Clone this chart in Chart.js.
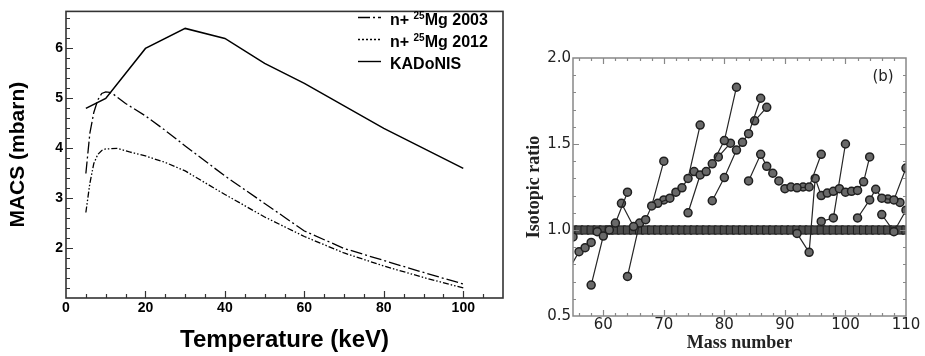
<!DOCTYPE html>
<html>
<head>
<meta charset="utf-8">
<script src="https://cdn.jsdelivr.net/npm/chart.js@4"></script>
<style>
  html, body { margin: 0; padding: 0; background: #fff; }
  #wrap { position: relative; width: 925px; height: 356px; overflow: hidden; }
  #macsChart { position: absolute; left: 0; top: 0; }
  #ratioChart { position: absolute; left: 505px; top: 0; }
</style>
</head>
<body>
<div id="wrap">
  <canvas id="macsChart" width="505" height="356"></canvas>
  <canvas id="ratioChart" width="420" height="356"></canvas>
</div>
<script>
// ── data: left panel (MACS vs temperature) ──────────────────────────────────

const kadTemp = [5, 10, 20, 30, 40, 50, 60, 80, 100];
const kadMacs = [4.8, 5.0, 6.0, 6.4, 6.2, 5.7, 5.3, 4.4, 3.6];

const mg2003Temp = [5, 6, 7, 8, 9, 10, 11, 12, 15, 20, 25, 30, 40, 50, 60, 70, 80, 90, 100];
const mg2003Macs = [3.5, 4.3, 4.72, 4.97, 5.1, 5.13, 5.12, 5.08, 4.9, 4.65, 4.36, 4.05, 3.45, 2.9, 2.35, 2.0, 1.76, 1.52, 1.29];

const mg2012Temp = [5, 6, 7, 8, 9, 10, 13, 16, 20, 25, 30, 40, 50, 60, 70, 80, 90, 100];
const mg2012Macs = [2.72, 3.3, 3.7, 3.88, 3.96, 3.99, 4.0, 3.93, 3.85, 3.72, 3.55, 3.08, 2.63, 2.24, 1.91, 1.65, 1.42, 1.21];

// ── data: right panel (isotopic ratio vs mass number) ───────────────────────

const refMass = [55, 56, 57, 58, 59, 60, 61, 62, 63, 64, 65, 66, 67, 68, 69, 70, 71, 72, 73, 74,
  75, 76, 77, 78, 79, 80, 81, 82, 83, 84, 85, 86, 87, 88, 89, 90, 91, 92, 93, 94,
  95, 96, 97, 98, 99, 100, 101, 102, 103, 104, 105, 106, 107, 108, 109, 110];
const refRatio = [1, 1, 1, 1, 1, 1, 1, 1, 1, 1, 1, 1, 1, 1, 1, 1, 1, 1, 1, 1,
  1, 1, 1, 1, 1, 1, 1, 1, 1, 1, 1, 1, 1, 1, 1, 1, 1, 1, 1, 1,
  1, 1, 1, 1, 1, 1, 1, 1, 1, 1, 1, 1, 1, 1, 1, 1];

const feChain = [[54, 0.75], [56, 0.874], [57, 0.897], [58, 0.928]];
const niChain = [[58, 0.68], [60, 0.965], [61, 1.0], [62, 1.04], [64, 1.22]];
const cuChain = [[63, 1.155], [65, 1.02]];
const znChain = [[64, 0.73], [66, 1.04], [67, 1.06], [68, 1.14], [70, 1.40]];
const gaChain = [[69, 1.155], [71, 1.185]];
const geChain = [[70, 1.175], [72, 1.22], [73, 1.245], [74, 1.30], [76, 1.61]];
const seChain = [[74, 1.10], [76, 1.32], [77, 1.34], [78, 1.385], [80, 1.52], [82, 1.83]];
const brChain = [[79, 1.425], [81, 1.505]];
const krChain = [[78, 1.17], [80, 1.305], [82, 1.465], [83, 1.51], [84, 1.56], [86, 1.766]];
const rbChain = [[85, 1.635], [87, 1.713]];
const srChain = [[84, 1.285], [86, 1.44], [87, 1.37], [88, 1.33]];
const zrChain = [[90, 1.24], [91, 1.25], [92, 1.245], [94, 1.25], [96, 1.44]];
const moChain = [[92, 0.98], [94, 0.87], [95, 1.30], [96, 1.20], [97, 1.215], [98, 1.225],
  [99, 1.24], [100, 1.22], [101, 1.225], [102, 1.23], [103, 1.28], [104, 1.425]];
const ruChain = [[96, 1.05], [98, 1.07], [100, 1.50]];
const pdChain = [[102, 1.07], [104, 1.175], [105, 1.237], [106, 1.185], [108, 1.175], [110, 1.36]];
const agChain = [[107, 1.18], [109, 1.16]];
const cdChain = [[106, 1.09], [108, 0.99], [110, 1.115]];
const singles = [[55, 0.96], [59, 0.99], [75, 1.34], [89, 1.285], [93, 1.25]];

// ── helpers ─────────────────────────────────────────────────────────────────

const pts = (xs, ys) => xs.map((x, i) => ({ x, y: ys[i] }));
const pairPts = (arr) => arr.map(([x, y]) => ({ x, y }));

function range(a, b, step) {
  const out = [];
  for (let v = a; v <= b + 1e-9; v += step) out.push(Math.round(v * 1000) / 1000);
  return out;
}

// inward tick marks + frame, drawn through the chart's own scales
function framePlugin(id, spec) {
  return {
    id,
    afterDraw(chart) {
      const ctx = chart.ctx;
      const a = chart.chartArea;
      const xs = chart.scales.x;
      const ys = chart.scales.y;
      ctx.save();
      ctx.setLineDash([]);
      ctx.strokeStyle = spec.color;
      ctx.lineWidth = spec.tickWidth;
      ctx.beginPath();
      spec.xTicks.forEach(([v, len]) => {
        const px = Math.round(xs.getPixelForValue(v)) + 0.5;
        ctx.moveTo(px, a.bottom); ctx.lineTo(px, a.bottom - len);
        if (spec.mirror) { ctx.moveTo(px, a.top); ctx.lineTo(px, a.top + len); }
      });
      spec.yTicks.forEach(([v, len]) => {
        const py = Math.round(ys.getPixelForValue(v)) + 0.5;
        ctx.moveTo(a.left, py); ctx.lineTo(a.left + len, py);
        if (spec.mirror) { ctx.moveTo(a.right, py); ctx.lineTo(a.right - len, py); }
      });
      ctx.stroke();
      ctx.lineWidth = spec.frameWidth;
      ctx.strokeRect(a.left, a.top, a.right - a.left, a.bottom - a.top);
      ctx.restore();
    },
  };
}

// ── left panel ──────────────────────────────────────────────────────────────

const legendRows = [
  { pre: 'n+ ', sup: '25', post: 'Mg 2003', dash: [12, 3, 2, 3] },
  { pre: 'n+ ', sup: '25', post: 'Mg 2012', dash: [2, 2, 2, 2, 2, 2] },
  { pre: 'KADoNIS', sup: '', post: '', dash: [] },
];

const macsLegend = {
  id: 'macsLegend',
  afterDraw(chart) {
    const ctx = chart.ctx;
    ctx.save();
    legendRows.forEach((row, i) => {
      const y = 17.5 + i * 22;
      ctx.strokeStyle = '#000';
      ctx.lineWidth = 1.4;
      ctx.setLineDash(row.dash);
      ctx.beginPath(); ctx.moveTo(358, y); ctx.lineTo(381, y); ctx.stroke();
      ctx.setLineDash([]);
      ctx.fillStyle = '#000';
      ctx.textBaseline = 'alphabetic';
      let x = 390;
      ctx.font = 'bold 16px "Liberation Sans", Arial, sans-serif';
      ctx.fillText(row.pre, x, y + 7);
      x += ctx.measureText(row.pre).width;
      if (row.sup) {
        ctx.font = 'bold 10px "Liberation Sans", Arial, sans-serif';
        ctx.fillText(row.sup, x, y + 1.5);
        x += ctx.measureText(row.sup).width;
        ctx.font = 'bold 16px "Liberation Sans", Arial, sans-serif';
        ctx.fillText(row.post, x, y + 7);
      }
    });
    ctx.restore();
  },
};

const boldSans = (size) => ({ family: '"Liberation Sans", Arial, sans-serif', weight: 'bold', size });

new Chart(document.getElementById('macsChart'), {
  type: 'line',
  data: {
    datasets: [
      { label: 'n+ 25Mg 2003', data: pts(mg2003Temp, mg2003Macs), borderColor: '#000', borderWidth: 1.3, borderDash: [12, 3, 2, 3], pointRadius: 0, tension: 0 },
      { label: 'n+ 25Mg 2012', data: pts(mg2012Temp, mg2012Macs), borderColor: '#000', borderWidth: 1.3, borderDash: [6, 2, 1.5, 2, 1.5, 2], pointRadius: 0, tension: 0 },
      { label: 'KADoNIS', data: pts(kadTemp, kadMacs), borderColor: '#000', borderWidth: 1.5, pointRadius: 0, tension: 0 },
    ],
  },
  options: {
    responsive: false,
    animation: false,
    layout: { padding: { left: 0, right: 2, top: 4, bottom: 0 } },
    plugins: { legend: { display: false }, tooltip: { enabled: false } },
    scales: {
      x: {
        type: 'linear', min: 0, max: 110,
        border: { display: false },
        grid: { display: false, drawTicks: false },
        ticks: { stepSize: 20, includeBounds: false, maxRotation: 0, color: '#000', font: boldSans(14), padding: 2 },
        title: { display: true, text: 'Temperature (keV)', color: '#000', font: boldSans(24), padding: { top: 0, bottom: 1.6 } },
        afterFit: (s) => { s.height = 58; },
      },
      y: {
        type: 'linear', min: 1.01, max: 6.74,
        border: { display: false },
        grid: { display: false, drawTicks: false },
        ticks: { stepSize: 1, includeBounds: false, color: '#000', font: boldSans(14), padding: 3 },
        title: { display: true, text: 'MACS (mbarn)', color: '#000', font: boldSans(21), padding: { top: 5.4, bottom: 0 } },
        afterFit: (s) => { s.width = 66; },
      },
    },
  },
  plugins: [
    framePlugin('macsFrame', {
      color: '#333', tickWidth: 1.2, frameWidth: 1.6, mirror: false,
      xTicks: range(5, 105, 5).map((v) => [v, v % 20 === 0 ? 7 : 4]),
      yTicks: range(1.2, 6.6, 0.2).map((v) => [v, Math.abs(v - Math.round(v)) < 1e-6 ? 7 : 4]),
    }),
    macsLegend,
  ],
});

// ── right panel ─────────────────────────────────────────────────────────────

const chainList = [feChain, niChain, cuChain, znChain, gaChain, geChain, seChain, brChain, krChain,
  rbChain, srChain, zrChain, moChain, ruChain, pdChain, agChain, cdChain];

const circleStyle = {
  borderColor: '#262626', borderWidth: 1.2,
  pointBackgroundColor: '#696969', pointBorderColor: '#1f1f1f', pointBorderWidth: 1.5,
  pointRadius: 4, tension: 0, clip: 0, order: 1,
};

const ratioDatasets = chainList.map((c) => ({ data: pairPts(c), ...circleStyle }));
ratioDatasets.push({ data: pairPts(singles), ...circleStyle, showLine: false });
ratioDatasets.push({
  data: pts(refMass, refRatio), showLine: true, borderColor: '#222', borderWidth: 1,
  pointStyle: 'rect', pointRadius: 5.8, pointBackgroundColor: '#4d4d4d', pointBorderColor: '#1e1e1e',
  pointBorderWidth: 1, clip: 0, order: 10,
});

const panelTag = {
  id: 'panelTag',
  afterDraw(chart) {
    const ctx = chart.ctx;
    ctx.save();
    ctx.fillStyle = '#222';
    ctx.font = '15px "DejaVu Sans", sans-serif';
    ctx.textAlign = 'center';
    ctx.textBaseline = 'middle';
    ctx.fillText('(b)', 378, 77);
    ctx.restore();
  },
};

const dejavu = (size) => ({ family: '"DejaVu Sans", sans-serif', size });
const serifBold = (size) => ({ family: '"Liberation Serif", "Times New Roman", serif', weight: 'bold', size });

new Chart(document.getElementById('ratioChart'), {
  type: 'line',
  data: { datasets: ratioDatasets },
  options: {
    responsive: false,
    animation: false,
    layout: { padding: { left: 0, right: 19, top: 58, bottom: 0 } },
    plugins: { legend: { display: false }, tooltip: { enabled: false } },
    scales: {
      x: {
        type: 'linear', min: 55, max: 110,
        border: { display: false },
        grid: { display: false, drawTicks: false },
        ticks: { stepSize: 10, includeBounds: false, maxRotation: 0, autoSkip: false, color: '#222', font: dejavu(15), padding: 0 },
        title: { display: true, text: 'Mass number', color: '#222', font: serifBold(18), padding: { top: 0, bottom: 2 } },
        afterFit: (s) => { s.height = 40; },
      },
      y: {
        type: 'linear', min: 0.5, max: 2.0,
        border: { display: false },
        grid: { display: false, drawTicks: false },
        ticks: { stepSize: 0.5, color: '#222', font: dejavu(15), padding: 2, callback: (v) => v.toFixed(1) },
        title: { display: true, text: 'Isotopic ratio', color: '#222', font: serifBold(18), padding: { top: 19, bottom: 0 } },
        afterFit: (s) => { s.width = 68; },
      },
    },
  },
  plugins: [
    framePlugin('ratioFrame', {
      color: '#888', tickWidth: 1.2, frameWidth: 1.5, mirror: true,
      xTicks: range(56, 108, 2).map((v) => [v, v % 10 === 0 ? 6 : 3]),
      yTicks: range(0.6, 1.9, 0.1).map((v) => [v, Math.abs(v * 2 - Math.round(v * 2)) < 1e-6 ? 6 : 3]),
    }),
    panelTag,
  ],
});
</script>
</body>
</html>
